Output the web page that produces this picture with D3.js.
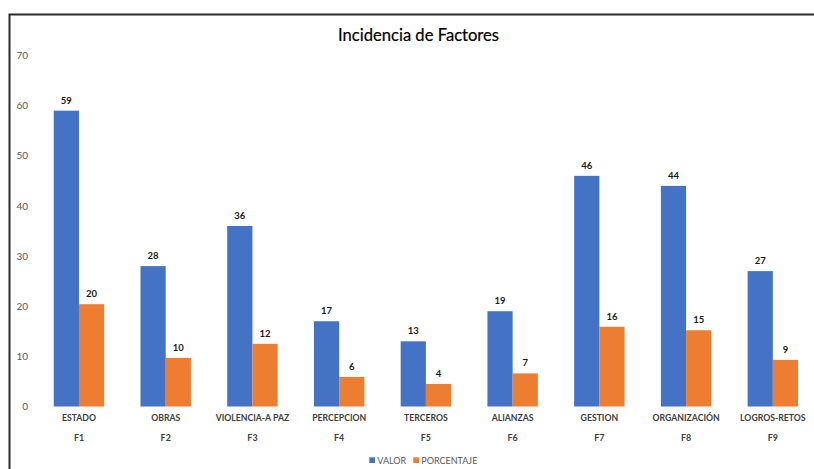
<!DOCTYPE html>
<html><head><meta charset="utf-8">
<script src="https://cdn.jsdelivr.net/npm/d3@7"></script>
<style>
html,body{margin:0;padding:0;background:#fff;}
svg{display:block;}
</style></head>
<body>
<script>
const categories = ["ESTADO","OBRAS","VIOLENCIA-A PAZ","PERCEPCION","TERCEROS","ALIANZAS","GESTION","ORGANIZACIÓN","LOGROS-RETOS"];
const codes = ["F1","F2","F3","F4","F5","F6","F7","F8","F9"];
const valor = [59,28,36,17,13,19,46,44,27];
const porcentaje = [20.4,9.7,12.5,5.9,4.5,6.6,15.9,15.2,9.3];
const porcentajeLabels = ["20","10","12","6","4","7","16","15","9"];
const yTicks = [0,10,20,30,40,50,60,70];
const seriesNames = ["VALOR","PORCENTAJE"];
const colors = ["#4472C4","#ED7D31"];

const W = 814, H = 469;
const svg = d3.select("body").append("svg").attr("width",W).attr("height",H);
const font = "Lato, 'Open Sans', sans-serif";

// frame
svg.append("path").attr("d","M9.5,469 V14.5 H814").attr("fill","none").attr("stroke","#2b2b2b").attr("stroke-width",2);

const x = d3.scaleBand().domain(categories).range([35.6,816.2]).paddingInner(0).paddingOuter(0);
const y = d3.scaleLinear().domain([0,70]).range([406.5,55.5]);
const xs = d3.scaleBand().domain(seriesNames).range([0,x.bandwidth()]).paddingInner(0).paddingOuter(0.72);

// title
svg.append("text").attr("x",418.5).attr("y",41).attr("text-anchor","middle")
  .attr("font-family",font).attr("font-size",16.6).attr("fill","#000").attr("stroke","#000").attr("stroke-width",0.2).text("Incidencia de Factores");

// y axis
const yAxis = d3.axisLeft(y).tickValues(yTicks).tickSize(0).tickPadding(0);
const ga = svg.append("g").attr("transform","translate(28,0)").call(yAxis);
ga.select(".domain").remove();
ga.selectAll("text").attr("font-family",font).attr("font-size",10).attr("fill","#595959");

const data = categories.map((c,i)=>({c, v:[valor[i],porcentaje[i]], l:[String(valor[i]),porcentajeLabels[i]]}));
const g = svg.append("g");
data.forEach(d=>{
  seriesNames.forEach((s,j)=>{
    const bx = x(d.c)+xs(s);
    g.append("rect").attr("x",bx).attr("width",xs.bandwidth())
      .attr("y",y(d.v[j])).attr("height",y(0)-y(d.v[j])).attr("fill",colors[j]);
    g.append("text").attr("x",bx+xs.bandwidth()/2).attr("y",y(d.v[j])-7)
      .attr("text-anchor","middle").attr("font-family",font).attr("font-weight","bold")
      .attr("font-size",9.5).attr("fill","#1a1a1a").text(d.l[j]);
  });
});

// category axis
const xAxis = d3.axisBottom(x).tickSize(0).tickPadding(0);
const gx = svg.append("g").attr("transform","translate(0,414.5)").call(xAxis);
gx.select(".domain").remove();
gx.selectAll("text").attr("font-family",font).attr("font-weight","bold").attr("font-size",8.7).attr("fill","#404040").attr("dy","0.71em");
const gx2 = svg.append("g").attr("transform","translate(0,435)").call(d3.axisBottom(x).tickSize(0).tickPadding(0).tickFormat((d,i)=>codes[i]));
gx2.select(".domain").remove();
gx2.selectAll("text").attr("font-family",font).attr("font-weight","bold").attr("font-size",8.9).attr("fill","#404040").attr("dy","0.71em");

// legend
const legX = [369.3, 413.3];
seriesNames.forEach((s,j)=>{
  svg.append("rect").attr("x",legX[j]).attr("y",457.3).attr("width",5.7).attr("height",5.7).attr("fill",colors[j]);
  svg.append("text").attr("x",legX[j]+8).attr("y",463.5).attr("font-family",font).attr("font-size",9)
    .attr("fill","#595959").text(s);
});
</script>
</body></html>
